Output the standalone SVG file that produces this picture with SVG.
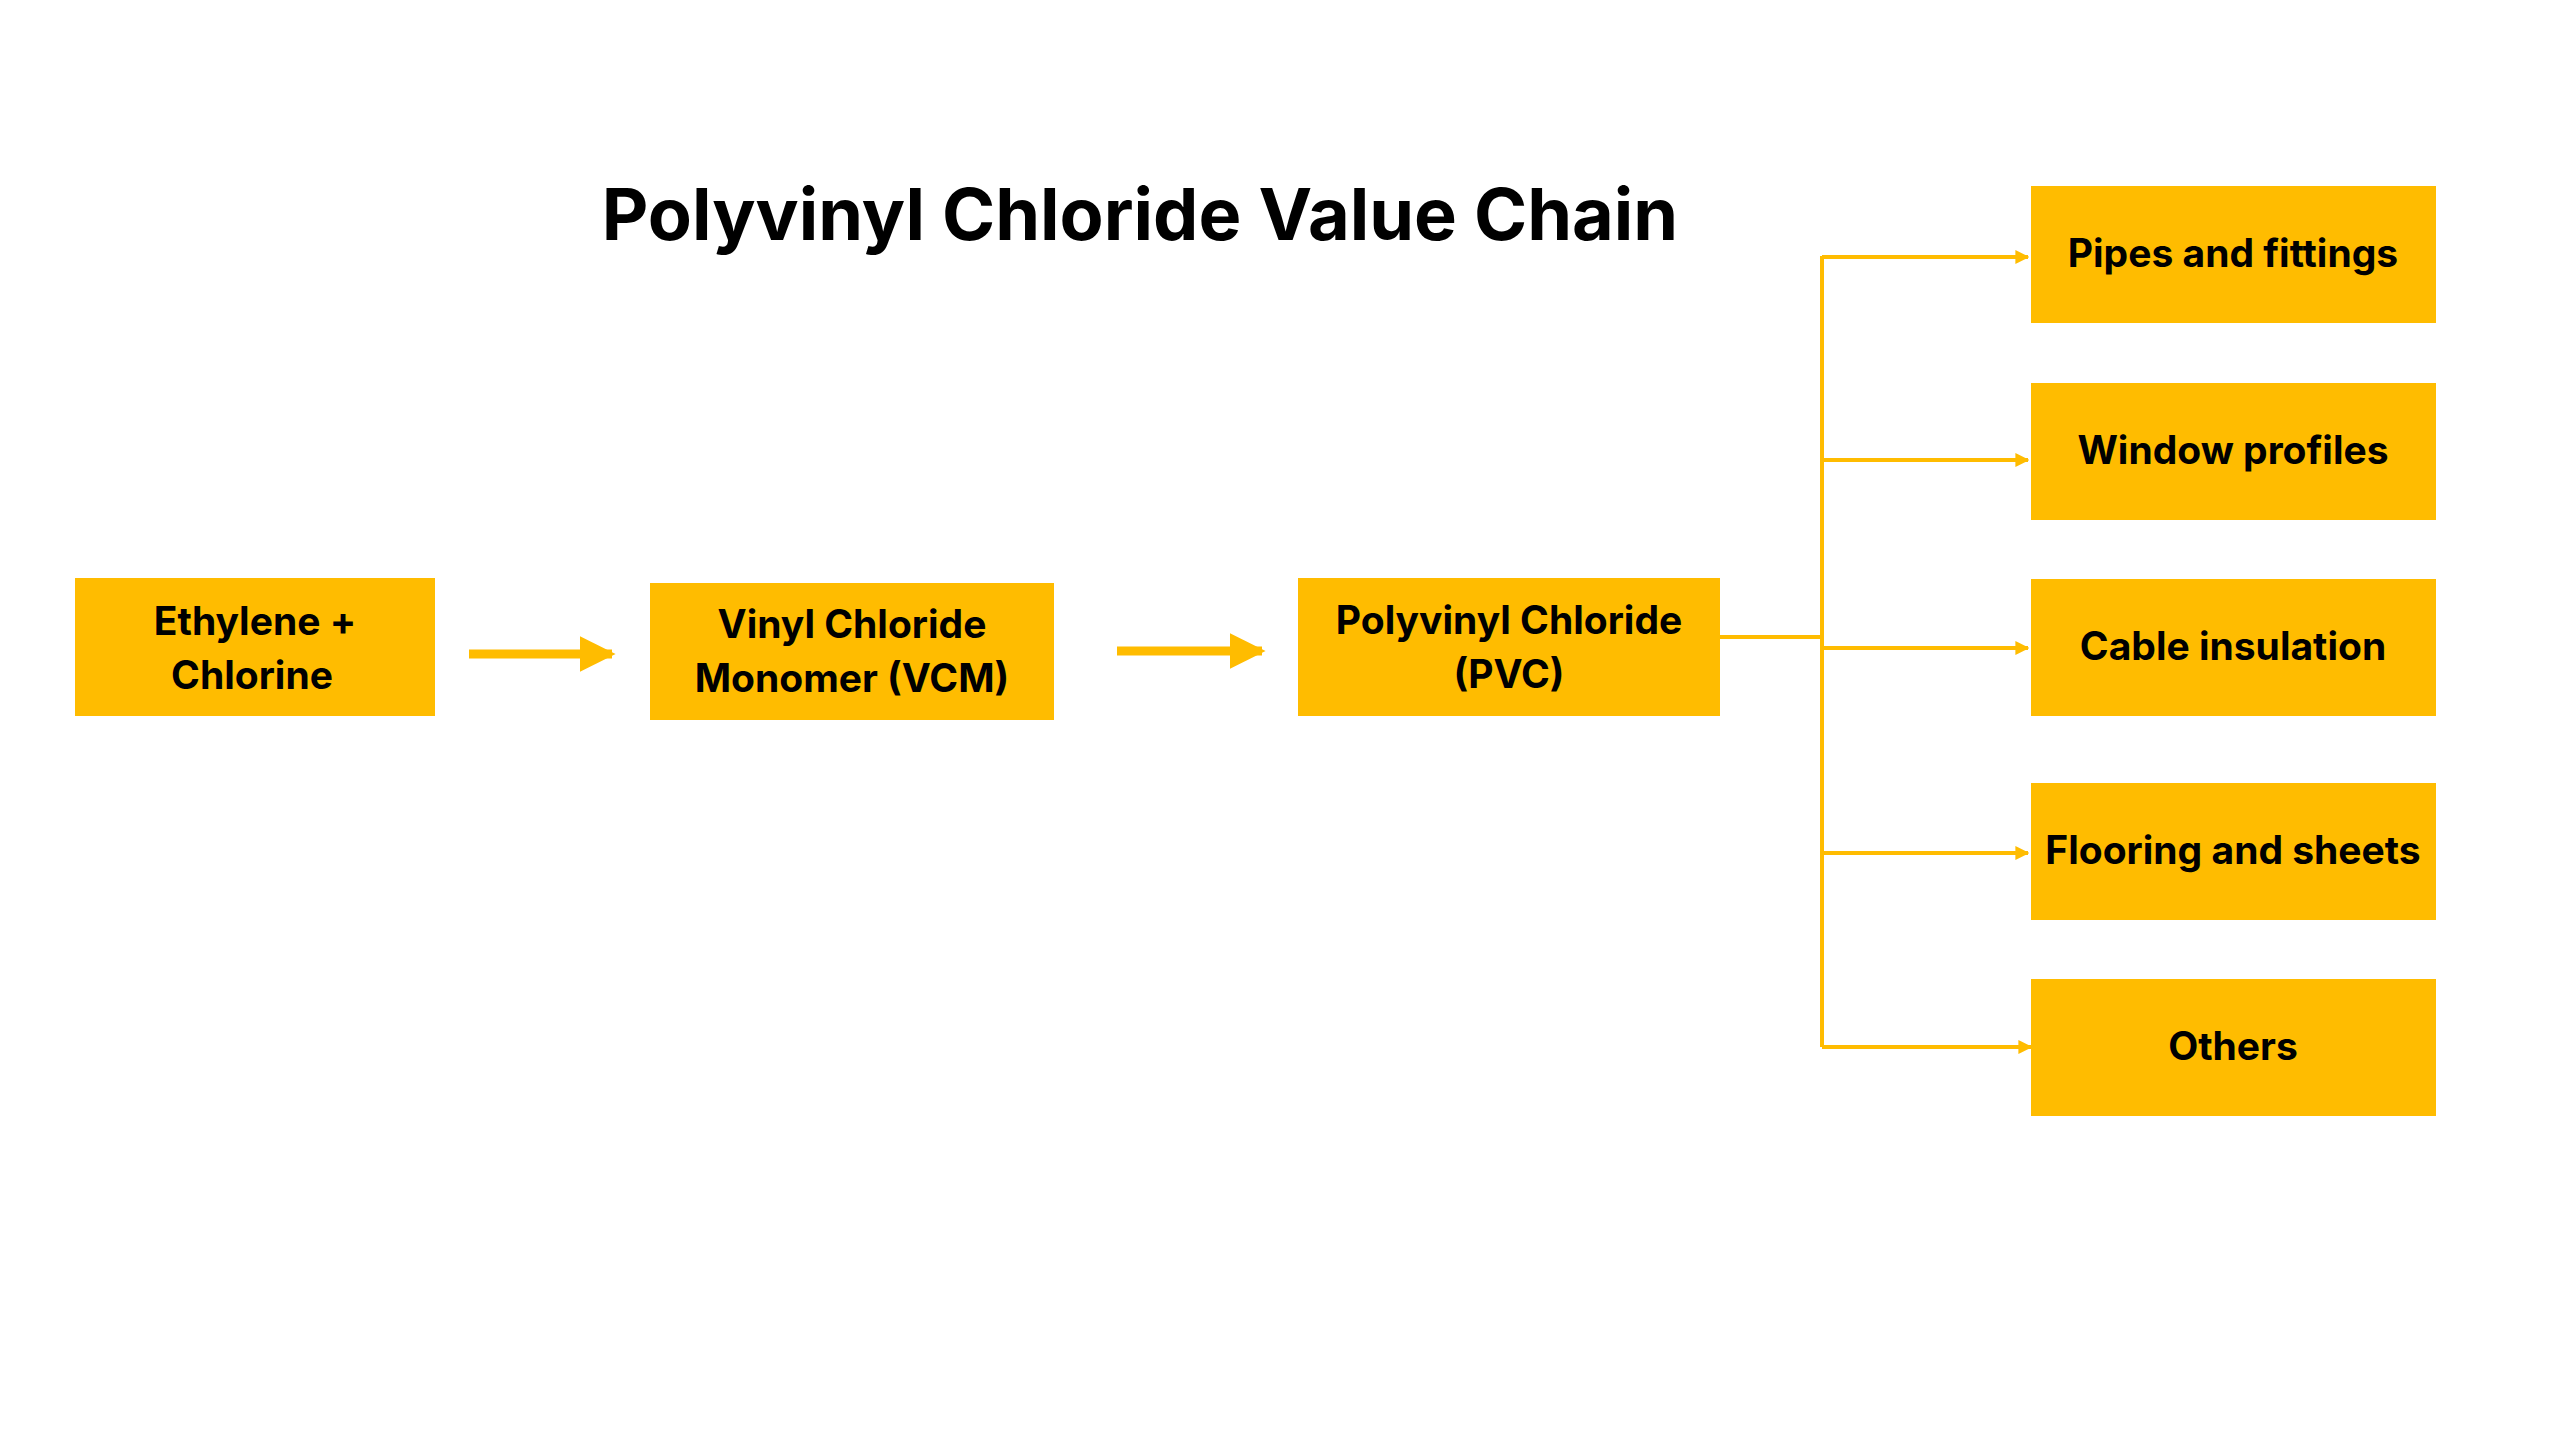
<svg xmlns="http://www.w3.org/2000/svg" width="2560" height="1440" viewBox="0 0 2560 1440">
<defs>
<style>
.box{fill:#FFBC00}
.t{font-family:Inter,"Liberation Sans",sans-serif;font-weight:700;font-size:39px;fill:#000;text-anchor:middle}
.thick{stroke:#FFBC00;stroke-width:9;fill:none}
.thin{stroke:#FFBC00;stroke-width:4;fill:none}
</style>
<marker id="big" viewBox="0 0 10 10" refX="9" refY="5" markerWidth="4" markerHeight="4" orient="auto" markerUnits="strokeWidth"><path d="M0,0 L10,5 L0,10 z" fill="#FFBC00"/></marker>
<marker id="small" viewBox="0 0 10 10" refX="9" refY="5" markerWidth="3.5" markerHeight="3.5" orient="auto" markerUnits="strokeWidth"><path d="M0,0 L10,5 L0,10 z" fill="#FFBC00"/></marker>
</defs>
<rect width="2560" height="1440" fill="#fff"/>
<text x="1140" y="240" font-family="Inter,'Liberation Sans',sans-serif" font-weight="700" font-size="72" text-anchor="middle">Polyvinyl Chloride Value Chain</text>
<g id="connectors">
<path class="thick" d="M469 654 H612" marker-end="url(#big)"/>
<path class="thick" d="M1117 651 H1262" marker-end="url(#big)"/>
<path class="thin" d="M1720 637 H1822"/>
<path class="thin" d="M1822 256 V1047"/>
<path class="thin" d="M1822 257 H2028" marker-end="url(#small)"/>
<path class="thin" d="M1822 460 H2028" marker-end="url(#small)"/>
<path class="thin" d="M1822 648 H2028" marker-end="url(#small)"/>
<path class="thin" d="M1822 853 H2028" marker-end="url(#small)"/>
<path class="thin" d="M1822 1047 H2031" marker-end="url(#small)"/>
</g>
<g id="n1"><rect class="box" x="75" y="578" width="360" height="138"/><text class="t" x="255" y="635">Ethylene +</text><text class="t" x="252" y="689">Chlorine</text></g>
<g id="n2"><rect class="box" x="650" y="583" width="404" height="137"/><text class="t" x="852" y="638">Vinyl Chloride</text><text class="t" x="852" y="692">Monomer (VCM)</text></g>
<g id="n3"><rect class="box" x="1298" y="578" width="422" height="138"/><text class="t" x="1509" y="634">Polyvinyl Chloride</text><text class="t" x="1509" y="688">(PVC)</text></g>
<g id="n4"><rect class="box" x="2031" y="186" width="405" height="137"/><text class="t" x="2233" y="267">Pipes and fittings</text></g>
<g id="n5"><rect class="box" x="2031" y="383" width="405" height="137"/><text class="t" x="2233" y="464">Window profiles</text></g>
<g id="n6"><rect class="box" x="2031" y="579" width="405" height="137"/><text class="t" x="2233" y="660">Cable insulation</text></g>
<g id="n7"><rect class="box" x="2031" y="783" width="405" height="137"/><text class="t" x="2233" y="864">Flooring and sheets</text></g>
<g id="n8"><rect class="box" x="2031" y="979" width="405" height="137"/><text class="t" x="2233" y="1060">Others</text></g>
</svg>
